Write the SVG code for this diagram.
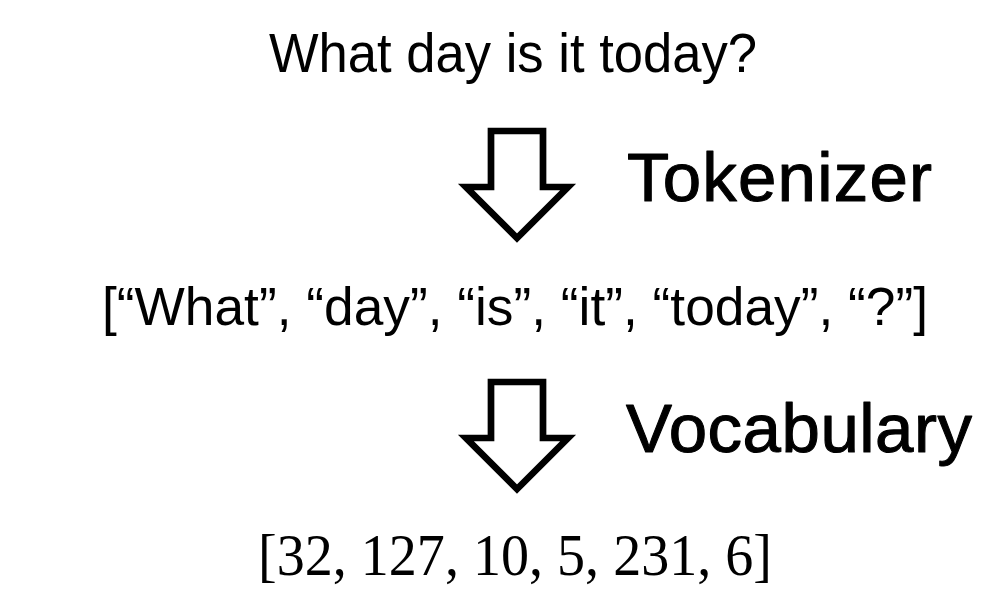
<svg xmlns="http://www.w3.org/2000/svg" width="1000" height="597" viewBox="0 0 1000 597">
  <style>
    .sans { font-family: "Liberation Sans", Arial, sans-serif; fill: #000; }
    .serif { font-family: "Liberation Serif", "Times New Roman", serif; fill: #000; }
    .label { stroke: #000; stroke-width: 1.1; stroke-linejoin: round; }
    .arrow { fill: #fff; stroke: #000; stroke-width: 6.7; stroke-linejoin: miter; stroke-miterlimit: 10; }
  </style>
  <defs>
    <path id="bigArrow" d="M491,131 H543 V187 H568 L517,238 L466,187 H491 Z"/>
  </defs>
  <rect width="1000" height="597" fill="#fff"/>

  <g id="sentence">
    <text class="sans" x="269" y="72" font-size="55" textLength="488" lengthAdjust="spacingAndGlyphs">What day is it today?</text>
  </g>

  <g id="connectors">
    <use href="#bigArrow" class="arrow"/>
    <use href="#bigArrow" class="arrow" transform="translate(0,251)"/>
  </g>

  <g id="label-tokenizer">
    <text class="sans label" x="627" y="201" font-size="69" textLength="305" lengthAdjust="spacing">Tokenizer</text>
  </g>

  <g id="tokens">
    <text class="sans" x="102" y="325" font-size="54" textLength="826" lengthAdjust="spacingAndGlyphs">[“What”, “day”, “is”, “it”, “today”, “?”]</text>
  </g>

  <g id="label-vocabulary">
    <text class="sans label" x="626" y="452" font-size="69" textLength="346" lengthAdjust="spacing">Vocabulary</text>
  </g>

  <g id="ids">
    <text class="serif" x="258" y="575" font-size="60" textLength="514" lengthAdjust="spacingAndGlyphs">[32, 127, 10, 5, 231, 6]</text>
  </g>
</svg>
